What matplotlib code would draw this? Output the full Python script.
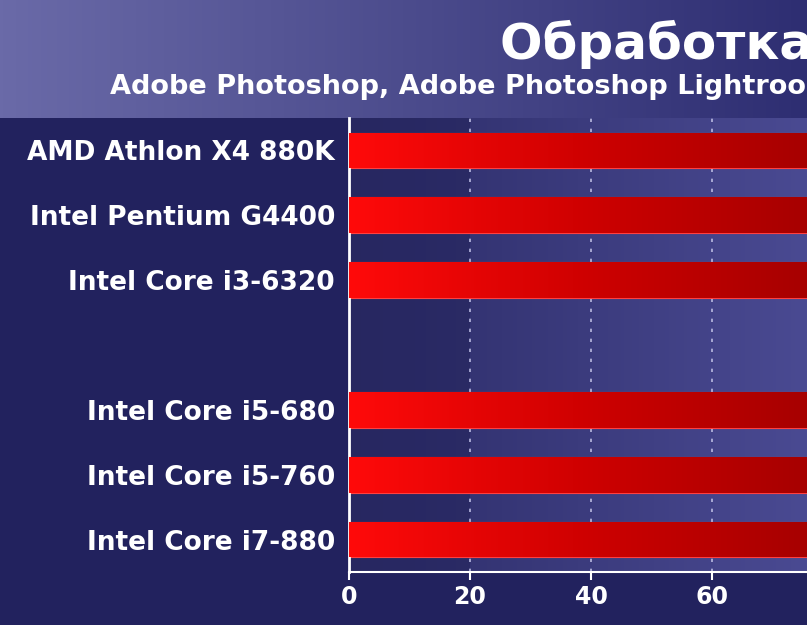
import matplotlib
matplotlib.use("Agg")
import matplotlib.pyplot as plt
import numpy as np
from matplotlib.colors import LinearSegmentedColormap

cpus = ["AMD Athlon X4 880K", "Intel Pentium G4400", "Intel Core i3-6320",
        "Intel Core i5-680", "Intel Core i5-760", "Intel Core i7-880"]
positions = [0, 1, 2, 4, 5, 6]
values = [100, 100, 100, 100, 100, 100]  # bars run past the visible edge
ticks = [0, 20, 40, 60]
title = "Обработка фотографий"
subtitle = "Adobe Photoshop, Adobe Photoshop Lightroom"

fig = plt.figure(figsize=(8.07, 6.25), dpi=100)
fig.patch.set_facecolor("#22225e")

# title band
bg = fig.add_axes([0, 1 - 118/625, 1, 118/625])
grad = np.linspace(0, 1, 256).reshape(1, -1)
bg.imshow(grad, aspect="auto", extent=[0, 1, 0, 1],
          cmap=LinearSegmentedColormap.from_list("t", ["#6a6aa8", "#2e2e72"]))
bg.axis("off")
fig.text(500/807, 1 - 44/625, title, color="white", fontsize=36, fontweight="bold",
         va="center", ha="left")
fig.text(110/807, 1 - 87/625, subtitle, color="white", fontsize=19.5,
         fontweight="bold", va="center", ha="left")

xmax = (807 - 349) / 6.05
ax = fig.add_axes([349/807, 1 - 572/625, 1 - 349/807, (572 - 118)/625])
ax.set_xlim(0, xmax)
ax.set_ylim(6.5, -0.5)
ax.imshow(grad, aspect="auto", extent=[0, xmax, 6.5, -0.5], zorder=0,
          cmap=LinearSegmentedColormap.from_list("p", ["#2c2c68", "#4a4a92"]))
ax.axvspan(0, 20, color="#24245c", alpha=0.6, zorder=0.5, lw=0)
for t in ticks[1:]:
    ax.axvline(t, color="#b8b8e0", ls=(0, (2, 4)), lw=1.2, zorder=1)

bar_cmap = LinearSegmentedColormap.from_list("b", ["#ff0a0a", "#cc0000", "#a00000"])
bars = ax.barh(positions, values, height=0.55, color="#d00000", zorder=2,
               edgecolor="#ff4040", linewidth=0.8)
for b in bars:
    x0, y0, w, h = b.get_x(), b.get_y(), b.get_width(), b.get_height()
    im = ax.imshow(grad, aspect="auto", extent=[x0, x0 + 82, y0 + h, y0],
                   cmap=bar_cmap, zorder=3)
    im.set_clip_path(b)
ax.set_xlim(0, xmax)
ax.set_ylim(6.5, -0.5)

ax.set_yticks(positions)
ax.set_yticklabels(cpus, color="white", fontsize=19, fontweight="bold")
ax.set_xticks(ticks)
ax.set_xticklabels([str(t) for t in ticks], color="white", fontsize=17,
                   fontweight="bold")
ax.tick_params(axis="y", length=0, pad=10)
ax.tick_params(axis="x", colors="white", length=6, width=1.5, direction="out")
for s in ["top", "right"]:
    ax.spines[s].set_visible(False)
ax.spines["left"].set_color("white")
ax.spines["left"].set_linewidth(2)
ax.spines["bottom"].set_color("white")
ax.spines["bottom"].set_linewidth(1.5)

fig.savefig("out.png", dpi=100, facecolor=fig.get_facecolor())
